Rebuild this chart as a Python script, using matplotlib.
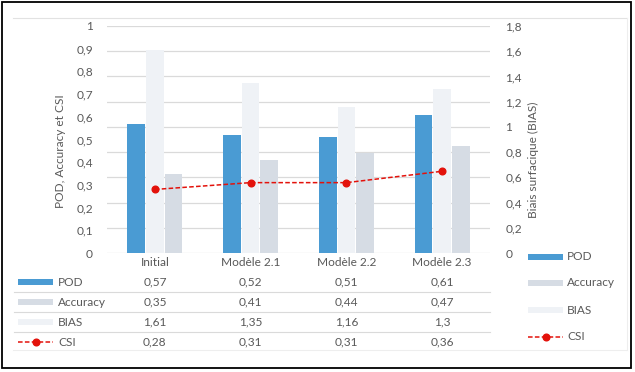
import matplotlib
matplotlib.use('Agg')

import matplotlib.pyplot as plt
from matplotlib.lines import Line2D
from matplotlib.patches import Rectangle

# data
categories = ['Initial', 'Modèle 2.1', 'Modèle 2.2', 'Modèle 2.3']
pod = [0.57, 0.52, 0.51, 0.61]
accuracy = [0.35, 0.41, 0.44, 0.47]
bias = [1.61, 1.35, 1.16, 1.3]
csi = [0.28, 0.31, 0.31, 0.36]

left_ticks = [0, 0.1, 0.2, 0.3, 0.4, 0.5, 0.6, 0.7, 0.8, 0.9, 1]
right_ticks = [0, 0.2, 0.4, 0.6, 0.8, 1, 1.2, 1.4, 1.6, 1.8]

BLUE = '#4a9bd3'
GREY = '#d6dce4'
LIGHT = '#eff2f6'
RED = '#e3120b'
TXT = '#595959'
GRID = '#dadada'
FS = 8.6

plt.rcParams['font.family'] = ['Lato', 'DejaVu Sans']
plt.rcParams['font.size'] = FS


def fmt(v):
    return ('%g' % v).replace('.', ',')


fig = plt.figure(figsize=(6.35, 3.72), dpi=100)
W, H = 635.0, 372.0

def fx(px):
    return px / W

def fy(py):
    return 1 - py / H

ax = fig.add_axes([fx(107), fy(253), fx(490) - fx(107), fy(26) - fy(253)])
ax2 = ax.twinx()
ax.set_zorder(2)
ax2.set_zorder(1)
ax.patch.set_visible(False)

x = list(range(len(categories)))
bw = 0.185
off = 0.195
ax.bar([i - off for i in x], pod, bw, color=BLUE, zorder=3)
ax.bar([i + off for i in x], accuracy, bw, color=GREY, zorder=3)
ax2.bar(x, bias, bw, color=LIGHT, zorder=3)
ax.plot(x, csi, color=RED, ls='--', lw=1.1, marker='o', ms=4.8, zorder=4,
        dashes=(3, 1.5))

ax.set_xlim(-0.5, len(categories) - 0.5)
ax.set_ylim(0, 1)
ax2.set_ylim(0, 1.8)
ax.set_yticks(left_ticks)
ax.set_yticklabels([fmt(v) for v in left_ticks])
ax2.set_yticks(right_ticks)
ax2.set_yticklabels([fmt(v) for v in right_ticks])
ax.set_xticks([])

ax2.grid(axis='y', color=GRID, lw=0.9)
ax2.set_axisbelow(True)

for a in (ax, ax2):
    for s in a.spines.values():
        s.set_visible(False)
    a.tick_params(axis='y', length=0, colors=TXT, labelsize=FS)
ax.tick_params(axis='y', pad=10)
ax2.tick_params(axis='y', pad=11)

ax.set_ylabel('POD, Accuracy et CSI', color=TXT, fontsize=FS)
ax2.set_ylabel('Biais surfacique (BIAS)', color=TXT, fontsize=FS, rotation=90)
ax.yaxis.set_label_coords(-0.108, 0.449)
ax2.yaxis.set_label_coords(1.098, 0.41)

# data table under the plot
tr = ax.get_xaxis_transform()
ah = 253 - 26

def ay(py):
    return (253 - py) / ah

for i, c in enumerate(categories):
    ax.text(i, ay(263), c, transform=tr, ha='center', va='center', color=TXT,
            clip_on=False)

rows = [('POD', pod), ('Accuracy', accuracy), ('BIAS', bias), ('CSI', csi)]
row_y = [282, 302, 322, 342]
for (name, vals), py in zip(rows, row_y):
    for i, v in enumerate(vals):
        ax.text(i, ay(py), fmt(v), transform=tr, ha='center', va='center',
                color=TXT, clip_on=False)
    fig.text(fx(58), fy(py), name, ha='left', va='center', color=TXT)

for py in [292, 312, 332]:
    fig.add_artist(Line2D([fx(14), fx(490)], [fy(py), fy(py)], color=GRID, lw=0.8))


def key(x0, x1, py, name):
    if name == 'CSI':
        fig.add_artist(Line2D([fx(x0), fx(x1)], [fy(py), fy(py)], color=RED,
                              ls='--', lw=1.1, dashes=(3, 1.5)))
        fig.add_artist(Line2D([fx((x0 + x1) / 2)], [fy(py)], color=RED,
                              marker='o', ms=4.8, ls='none'))
    else:
        col = {'POD': BLUE, 'Accuracy': GREY, 'BIAS': LIGHT}[name]
        fig.add_artist(Rectangle((fx(x0), fy(py + 3)), fx(x1) - fx(x0),
                                 fy(py - 3) - fy(py + 3), color=col, lw=0))

for (name, vals), py in zip(rows, row_y):
    key(18, 53, py, name)

# legend on the right
leg_y = [257, 283, 310, 337]
for (name, vals), py in zip(rows, leg_y):
    key(528, 563, py, name)
    fig.text(fx(567), fy(py), name, ha='left', va='center', color=TXT)

# frames
fig.add_artist(Line2D([fx(13), fx(627)], [fy(18), fy(18)], color='#e2e2e2', lw=0.8))
fig.add_artist(Line2D([fx(627), fx(627)], [fy(18), fy(350)], color='#eeeeee', lw=0.8))
fig.add_artist(Line2D([fx(13), fx(627)], [fy(350), fy(350)], color='#eeeeee', lw=0.8))
fig.add_artist(Rectangle((fx(2), fy(368)), fx(631) - fx(2), fy(2) - fy(368),
                         fill=False, ec='black', lw=1.3))

fig.savefig('out.png', dpi=100, facecolor='white')
